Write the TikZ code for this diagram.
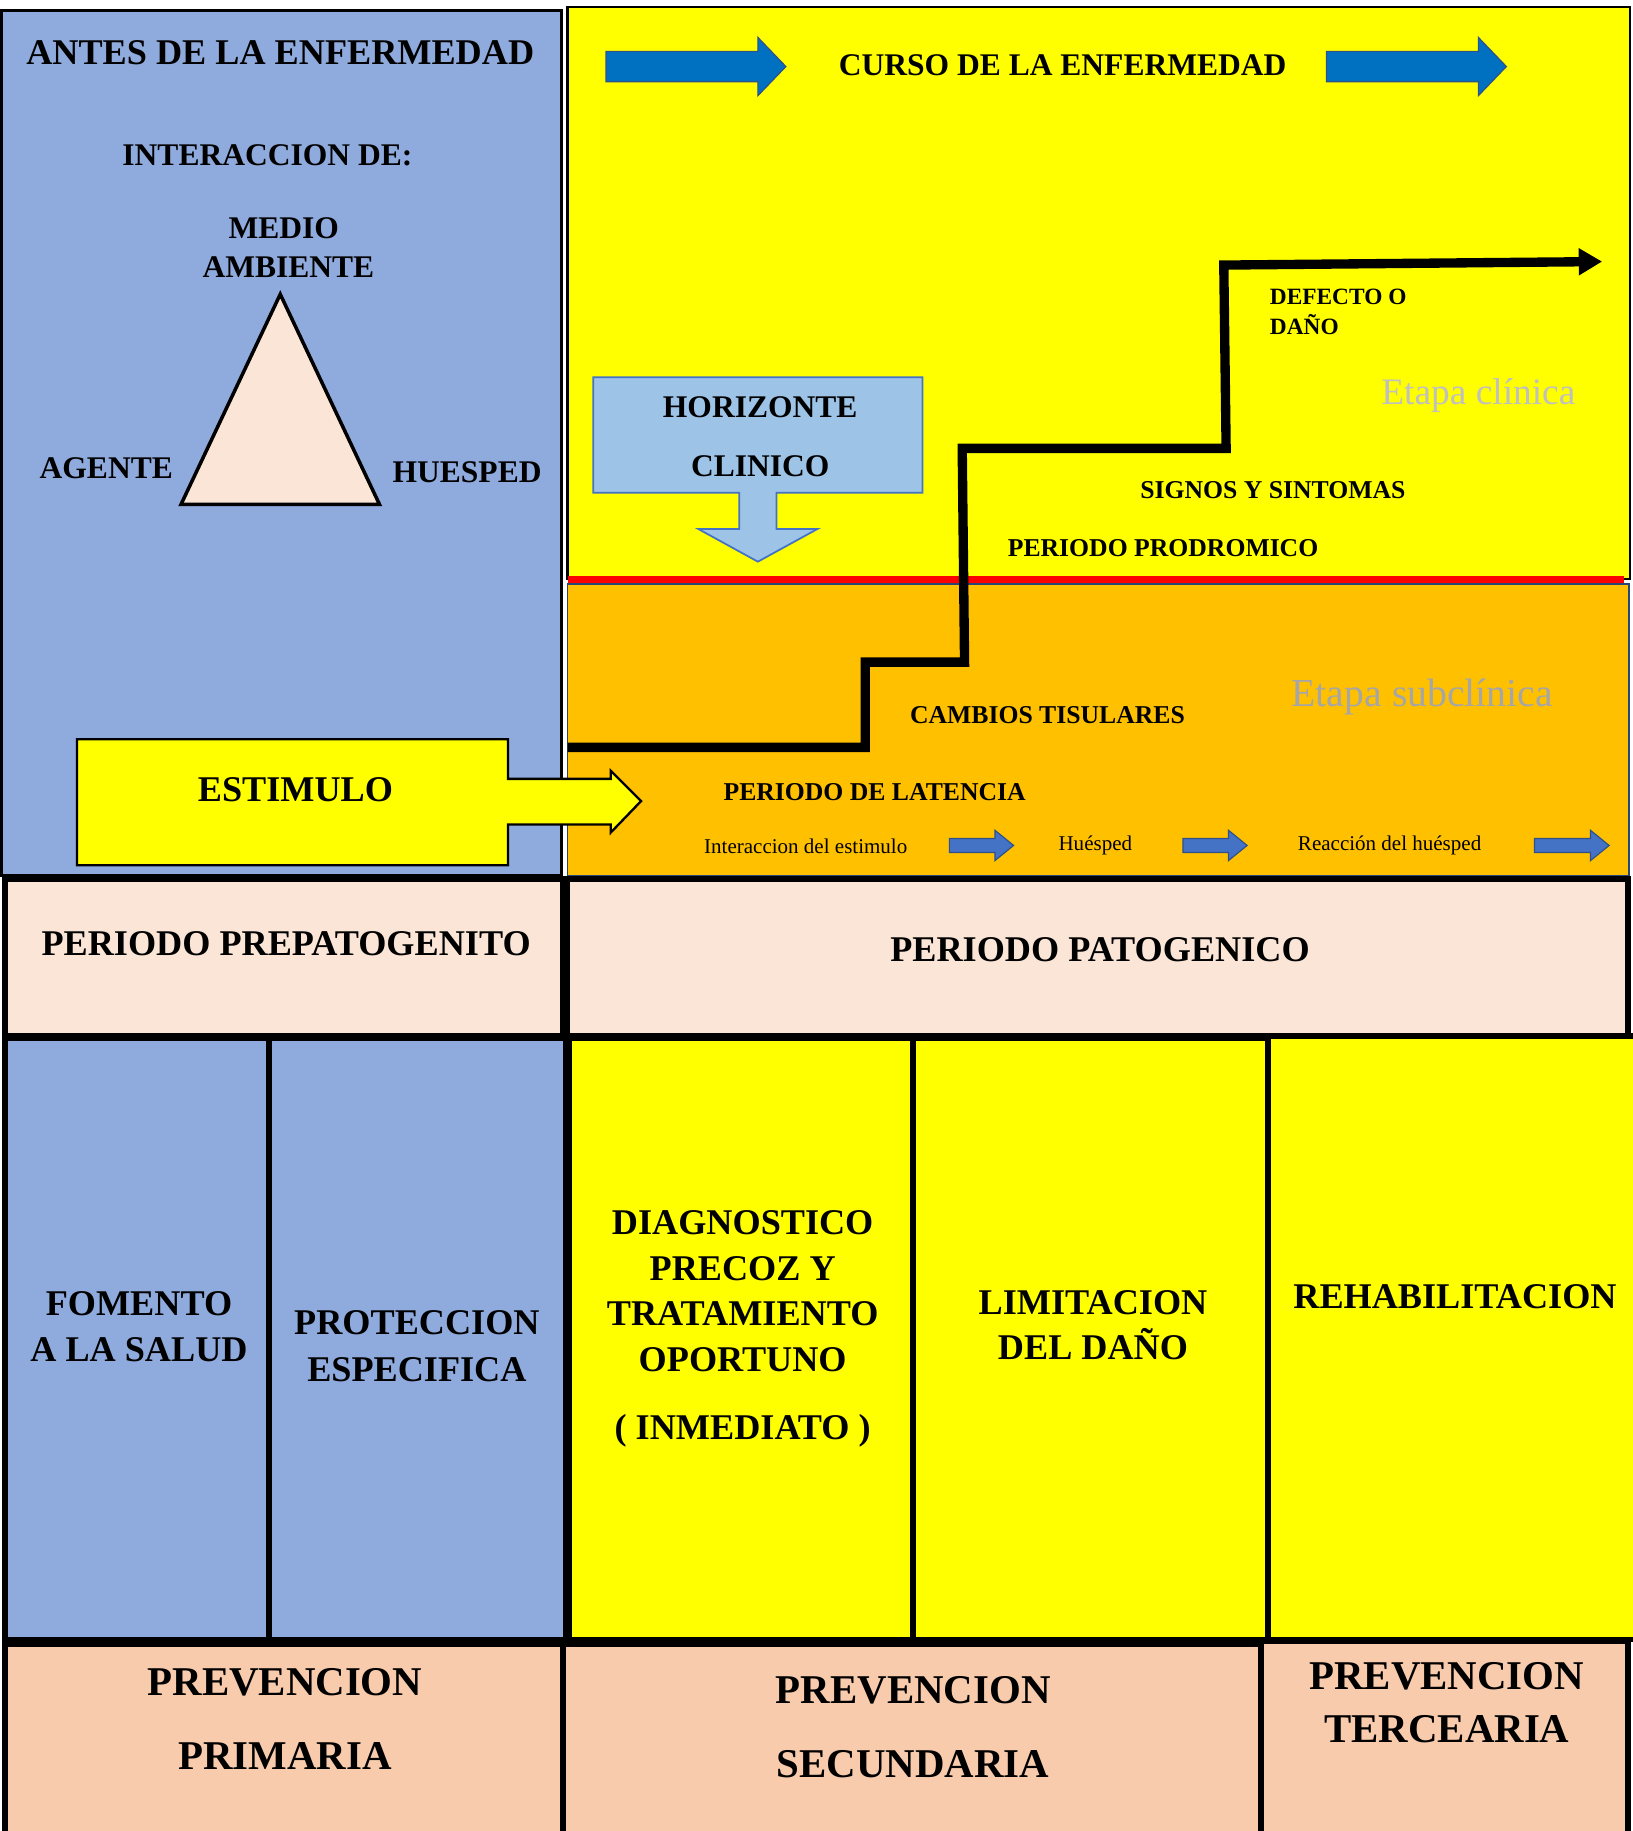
\documentclass[tikz,border=0pt]{standalone}
\usepackage{fontspec}
\setmainfont{Liberation Serif}
\usetikzlibrary{arrows.meta}

\definecolor{azulpanel}{HTML}{8FAADC}
\definecolor{amarillo}{HTML}{FFFF00}
\definecolor{naranja}{HTML}{FFC000}
\definecolor{rosaclaro}{HTML}{FBE5D6}
\definecolor{durazno}{HTML}{F8CBAD}
\definecolor{celeste}{HTML}{9DC3E6}
\definecolor{azulborde}{HTML}{4472C4}
\definecolor{azulflecha}{HTML}{0070C0}
\definecolor{grisclaro}{HTML}{C0C0C0}
\definecolor{grisoscuro}{HTML}{A6A6A6}

\tikzset{
  caja/.style={draw=black, line width=5pt},
  tgrande/.style={font=\fontsize{31}{40}\selectfont\bfseries, align=center},
  tprev/.style={font=\fontsize{35}{63}\selectfont\bfseries, align=center},
  tmedio/.style={font=\fontsize{27}{34}\selectfont\bfseries, align=center},
  tchico/.style={font=\fontsize{22}{26}\selectfont\bfseries},
  tmini/.style={font=\fontsize{18}{20}\selectfont},
  tetapa/.style={font=\fontsize{33}{36}\selectfont}
}

\begin{document}
\begin{tikzpicture}[x=1pt,y=-1pt]
  \useasboundingbox (0,0) rectangle (1398,1568);

  % Paneles superiores
  \draw[fill=azulpanel, line width=2.5pt] (1,9) rectangle (481,750);
  \draw[fill=amarillo, line width=2pt] (486,6) rectangle (1396,496);
  \draw[fill=naranja, draw=azulborde!60!black, line width=1.5pt] (486,500) rectangle (1395,750);
  \draw[red, line width=6pt] (486,496) -- (1391,496);

  % Fila de periodos
  \draw[caja, fill=rosaclaro] (4,753) rectangle (482,887);
  \draw[caja, fill=rosaclaro] (486,753) rectangle (1394,887);

  % Columnas de prevencion
  \draw[caja, fill=azulpanel] (4,889) rectangle (230,1404);
  \draw[caja, fill=azulpanel] (230,889) rectangle (485,1404);
  \draw[caja, fill=amarillo] (487,889) rectangle (782,1404);
  \draw[caja, fill=amarillo] (782,889) rectangle (1086,1404);
  \draw[caja, fill=amarillo] (1086,887) rectangle (1402,1404);

  % Fila inferior
  \draw[caja, fill=durazno] (4,1408) rectangle (482,1572);
  \draw[caja, fill=durazno] (482,1408) rectangle (1080,1572);
  \draw[caja, fill=durazno] (1080,1405) rectangle (1394,1572);

  % Triangulo de interaccion
  \draw[fill=rosaclaro, line width=3pt, line join=miter] (240,252) -- (325,432) -- (155,432) -- cycle;

  % Flechas del curso de la enfermedad
  \foreach \xo in {519,1136}
    \draw[fill=azulflecha, draw=azulborde!70!black, line width=1pt]
      (\xo,44) -- ++(130,0) -- ++(0,-12) -- ++(24,25) -- ++(-24,25) -- ++(0,-12) -- ++(-130,0) -- cycle;

  % Flechas pequenas
  \foreach \xo/\lo in {813/55,1013/55,1314/64}
    \draw[fill=azulborde, draw=azulborde!70!black, line width=1pt]
      (\xo,718) -- ++(\lo-16,0) -- ++(0,-7) -- ++(16,13) -- ++(-16,13) -- ++(0,-7) -- ++(-\lo+16,0) -- cycle;

  % Horizonte clinico
  \draw[fill=celeste, draw=azulborde, line width=1.5pt]
    (508,323) -- (790,323) -- (790,422) -- (665,422) -- (665,453) -- (700,453) -- (649,481)
    -- (598,453) -- (633,453) -- (633,422) -- (508,422) -- cycle;

  % Estimulo
  \draw[fill=amarillo, line width=2pt]
    (66,633) -- (435,633) -- (435,667) -- (523,667) -- (523,660) -- (549,686) -- (523,713)
    -- (523,706) -- (435,706) -- (435,741) -- (66,741) -- cycle;

  % Escalera de la enfermedad
  \draw[line width=8pt, -{Triangle[length=20pt,width=22pt]}]
    (486,640) -- (741,640) -- (741,567) -- (826,567) -- (824,384) -- (1050,384) -- (1048,227) -- (1372,224);

  % Textos
  \node[tgrande] (antes) at (240,45) {ANTES DE LA ENFERMEDAD};
  \node[tmedio] (interaccion) at (229,133) {INTERACCION DE:};
  \node[tmedio] (medio) at (243,212) {MEDIO\\\hspace*{8pt}AMBIENTE};
  \node[tmedio] (agente) at (91,401) {AGENTE};
  \node[tmedio] (huesped) at (400,404) {HUESPED};
  \node[tmedio] (curso) at (910,56) {CURSO DE LA ENFERMEDAD};
  \node[tchico, font=\fontsize{20}{25}\selectfont\bfseries, anchor=west, align=left] (defecto) at (1084,267) {DEFECTO O\\DAÑO};
  \node[tetapa, text=grisclaro, font=\fontsize{32}{36}\selectfont] (clinica) at (1266,339) {Etapa clínica};
  \node[tmedio, font=\fontsize{27}{51}\selectfont\bfseries] (horizonte) at (651,374) {HORIZONTE\\CLINICO};
  \node[tchico] (signos) at (1090,420) {SIGNOS Y SINTOMAS};
  \node[tchico] (prodromico) at (996,469) {PERIODO PRODROMICO};
  \node[tetapa, text=grisoscuro, font=\fontsize{34}{36}\selectfont] (subclinica) at (1218,597) {Etapa subclínica};
  \node[tchico] (cambios) at (897,612) {CAMBIOS TISULARES};
  \node[tgrande] (estimulo) at (253,676) {ESTIMULO};
  \node[tchico] (latencia) at (749,678) {PERIODO DE LATENCIA};
  \node[tmini] (interestimulo) at (690,725) {Interaccion del estimulo};
  \node[tmini] (huespedmini) at (938,724) {Huésped};
  \node[tmini] (reaccion) at (1190,724) {Reacción del huésped};
  \node[tgrande] (prepatogenito) at (245,808) {PERIODO PREPATOGENITO};
  \node[tgrande] (patogenico) at (942,813) {PERIODO PATOGENICO};
  \node[tgrande] (fomento) at (119,1136) {FOMENTO\\A LA SALUD};
  \node[tgrande] (proteccion) at (357,1153) {PROTECCION\\ESPECIFICA};
  \node[tgrande, font=\fontsize{31}{39}\selectfont\bfseries] (diagnostico) at (636,1138)
    {DIAGNOSTICO\\PRECOZ Y\\TRATAMIENTO\\OPORTUNO\\[19pt]( INMEDIATO )};
  \node[tgrande, font=\fontsize{31}{39}\selectfont\bfseries] (limitacion) at (936,1135) {LIMITACION\\DEL DAÑO};
  \node[tgrande] (rehabilitacion) at (1246,1110) {REHABILITACION};
  \node[tprev] (primaria) at (244,1472) {PREVENCION\\PRIMARIA};
  \node[tprev] (secundaria) at (782,1479) {PREVENCION\\SECUNDARIA};
  \node[tprev, font=\fontsize{35}{45}\selectfont\bfseries] (terciaria) at (1239,1458) {PREVENCION\\TERCEARIA};
\end{tikzpicture}
\end{document}
